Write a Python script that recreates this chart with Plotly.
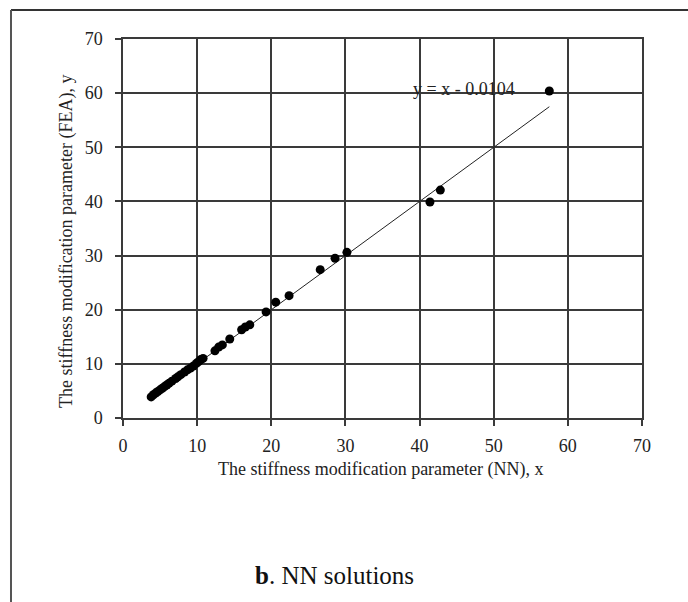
import plotly.graph_objects as go

# Data
x_nn = [3.8, 4.1, 4.4, 4.7, 5.0, 5.3, 5.6, 5.9, 6.2, 6.6, 7.1, 7.4, 7.8, 8.3, 8.7,
        9.1, 9.5, 9.9, 10.2, 10.5, 10.8, 12.4, 12.9, 13.4, 14.4, 16.0, 16.5, 17.1,
        19.3, 20.6, 22.4, 26.6, 28.6, 30.2, 41.4, 42.8, 57.5]
y_fea = [3.9, 4.3, 4.6, 4.9, 5.2, 5.5, 5.8, 6.1, 6.4, 6.8, 7.3, 7.6, 8.0, 8.5, 8.9,
         9.2, 9.6, 10.1, 10.4, 10.8, 11.0, 12.4, 13.1, 13.5, 14.6, 16.3, 16.8, 17.2,
         19.6, 21.4, 22.6, 27.4, 29.5, 30.6, 39.9, 42.1, 60.4]
fit_slope = 1.0
fit_intercept = -0.0104
tick_vals = [0, 10, 20, 30, 40, 50, 60, 70]

x_fit = [min(x_nn), max(x_nn)]
y_fit = [fit_slope * v + fit_intercept for v in x_fit]

FONT = "Liberation Serif, Times New Roman, serif"
GRID = "#3a3a3a"

fig = go.Figure()
fig.add_trace(go.Scatter(x=x_fit, y=y_fit, mode="lines",
                         line=dict(color="#222222", width=1), hoverinfo="skip"))
fig.add_trace(go.Scatter(x=x_nn, y=y_fea, mode="markers",
                         marker=dict(color="black", size=9, line=dict(width=0))))

axis_common = dict(range=[0, 70], tickvals=tick_vals, showgrid=True, gridcolor=GRID,
                   gridwidth=1.5, zeroline=False, showline=True, linecolor=GRID,
                   linewidth=1.5, ticks="outside", ticklen=6, tickcolor=GRID,
                   tickwidth=1.5, tickfont=dict(family=FONT, size=18, color="#222222"))

fig.update_layout(
    width=688, height=602,
    margin=dict(l=123, r=46, t=39, b=184),
    paper_bgcolor="white", plot_bgcolor="white",
    showlegend=False,
    xaxis=dict(**axis_common, mirror=True, ticklabelstandoff=5),
    yaxis=dict(**axis_common, mirror=True, ticklabelstandoff=9),
    font=dict(family=FONT, color="#222222"),
)

fig.add_annotation(x=46.0, y=60.7, xref="x", yref="y", text="y = x - 0.0104",
                   xanchor="center", yanchor="middle",
                   showarrow=False, font=dict(family=FONT, size=18, color="#222222"))
fig.add_annotation(x=0.498, y=-0.136, xref="paper", yref="paper",
                   xanchor="center", yanchor="middle",
                   text="The stiffness modification parameter (NN), x",
                   showarrow=False, font=dict(family=FONT, size=18, color="#222222"))
fig.add_annotation(x=-0.1098, y=0.467, xref="paper", yref="paper", textangle=-90,
                   xanchor="center", yanchor="middle",
                   text="The stiffness modification parameter (FEA), y",
                   showarrow=False, font=dict(family=FONT, size=18, color="#222222"))
fig.add_annotation(x=0.408, y=-0.415, xref="paper", yref="paper",
                   xanchor="center", yanchor="middle",
                   text="<b>b</b>. NN solutions",
                   showarrow=False, font=dict(family=FONT, size=25, color="#111111"))

# outer frame (top and left lines)
fig.add_shape(type="line", xref="paper", yref="paper", x0=-0.2158, x1=1.70,
              y0=1.0765, y1=1.0765, line=dict(color="#333333", width=2))
fig.add_shape(type="line", xref="paper", yref="paper", x0=-0.2158, x1=-0.2158,
              y0=1.0765, y1=-0.52, line=dict(color="#555555", width=2))

fig.write_html("out.html", config={"displayModeBar": False})
